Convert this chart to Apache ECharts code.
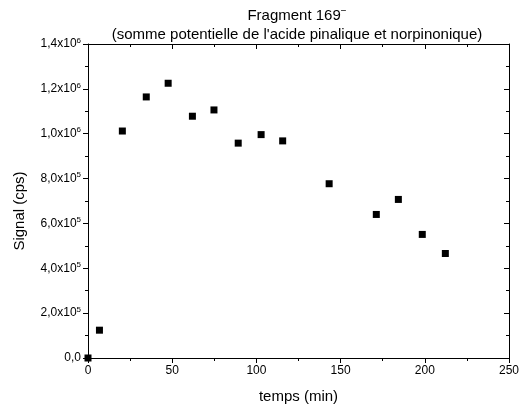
<!DOCTYPE html>
<html><head><meta charset="utf-8">
<script src="https://cdn.jsdelivr.net/npm/echarts@6/dist/echarts.min.js"></script>
<style>html,body{margin:0;padding:0;background:#fff}#c{width:525px;height:411px}</style>
</head><body><div id="c"></div>
<script>
const timeMin = [0, 6.8, 20.4, 34.6, 47.6, 62.0, 74.8, 89.2, 102.8, 115.6, 143.2, 171.2, 184.3, 198.5, 212.2];
const signalCps = [0, 124000, 1012000, 1164000, 1225000, 1078000, 1106000, 958000, 996000, 968000, 777000, 640000, 707000, 551000, 466000];
const yTickMant = ['0,0', '2,0x10', '4,0x10', '6,0x10', '8,0x10', '1,0x10', '1,2x10', '1,4x10'];
const yTickExp = ['', '5', '5', '5', '5', '6', '6', '6'];
const xTicks = [0, 50, 100, 150, 200, 250];

const FONT = 'Liberation Sans, Arial, sans-serif';
const chart = echarts.init(document.getElementById('c'), null, {renderer: 'canvas'});
const axLine = {show: true, onZero: false, lineStyle: {color: '#000', width: 1}};
chart.setOption({
  backgroundColor: '#fff',
  animation: false,
  title: {
    text: '{a|Fragment 169}{s|−}\n{a|(somme potentielle de l\'acide pinalique et norpinonique)}',
    left: 292, top: 1, textAlign: 'center',
    textStyle: {
      fontWeight: 'normal',
      rich: {
        a: {fontFamily: FONT, fontSize: 15, fontWeight: 'normal', color: '#000', lineHeight: 19},
        s: {fontFamily: FONT, fontSize: 10, fontWeight: 'normal', color: '#000', verticalAlign: 'top', lineHeight: 19, padding: [0,0,8,0]}
      }
    }
  },
  graphic: [{
    type: 'text', x: 20, y: 211, rotation: Math.PI / 2,
    style: {text: 'Signal (cps)', font: '15px ' + FONT, fill: '#000', align: 'center', verticalAlign: 'middle'}
  }],
  grid: {left: 88, right: 16, top: 44, bottom: 53, containLabel: false},
  xAxis: [{
    type: 'value', min: 0, max: 250, interval: 50,
    name: 'temps (min)', nameLocation: 'middle', nameGap: 31,
    nameTextStyle: {fontFamily: FONT, fontSize: 15, color: '#000'},
    axisLine: axLine,
    axisTick: {show: true, inside: false, length: 5, lineStyle: {color: '#000'}},
    minorTick: {show: true, splitNumber: 2, length: 3, lineStyle: {color: '#000'}},
    splitLine: {show: false},
    axisLabel: {fontFamily: FONT, fontSize: 12, color: '#000', margin: 7,
      formatter: v => xTicks.includes(v) ? String(v) : ''}
  }, {
    type: 'value', min: 0, max: 250, interval: 50, position: 'top',
    axisLine: axLine,
    axisTick: {show: true, inside: true, length: 5, lineStyle: {color: '#000'}},
    minorTick: {show: true, splitNumber: 2, length: 3, lineStyle: {color: '#000'}},
    splitLine: {show: false}, axisLabel: {show: false}
  }],
  yAxis: [{
    type: 'value', min: 0, max: 1400000, interval: 200000,
    axisLine: axLine,
    axisTick: {show: true, inside: false, length: 5, lineStyle: {color: '#000'}},
    minorTick: {show: true, splitNumber: 2, length: 3, lineStyle: {color: '#000'}},
    splitLine: {show: false},
    axisLabel: {
      margin: 7,
      formatter: v => {
        const i = Math.round(v / 200000);
        return yTickExp[i] ? '{m|' + yTickMant[i] + '}{e|' + yTickExp[i] + '}' : '{m|' + yTickMant[i] + '}';
      },
      rich: {
        m: {fontFamily: FONT, fontSize: 12, color: '#000'},
        e: {fontFamily: FONT, fontSize: 8, color: '#000', verticalAlign: 'top', padding: [0,0,7,0]}
      }
    }
  }, {
    type: 'value', min: 0, max: 1400000, interval: 200000, position: 'right',
    axisLine: axLine,
    axisTick: {show: true, inside: true, length: 5, lineStyle: {color: '#000'}},
    minorTick: {show: true, splitNumber: 2, length: 3, lineStyle: {color: '#000'}},
    splitLine: {show: false}, axisLabel: {show: false}
  }],
  series: [{
    type: 'scatter', xAxisIndex: 0, yAxisIndex: 0,
    symbol: 'rect', symbolSize: 7,
    itemStyle: {color: '#000', opacity: 1},
    data: timeMin.map((t, i) => [t, signalCps[i]])
  }]
});
</script></body></html>
